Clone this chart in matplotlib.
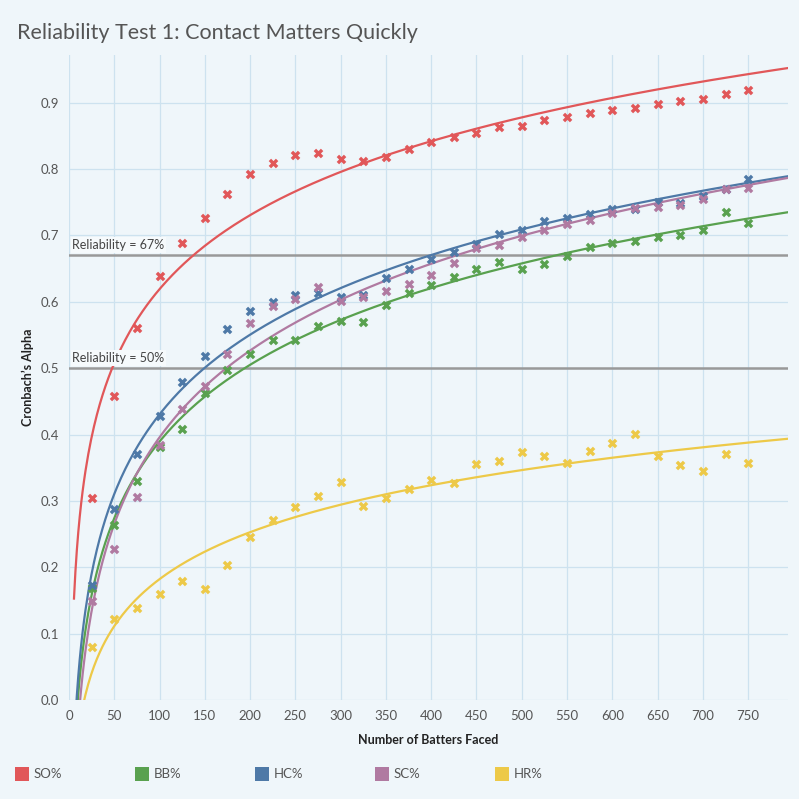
"""Reliability test chart: Cronbach's alpha vs batters faced, with log trend lines."""
import matplotlib
matplotlib.use("Agg")
import matplotlib.pyplot as plt
import numpy as np
from matplotlib.patches import Rectangle

BATTERS = list(range(25, 751, 25))

SO_PCT = [0.304, 0.458, 0.561, 0.639, 0.688, 0.727, 0.762, 0.792, 0.809, 0.822,
          0.825, 0.815, 0.812, 0.819, 0.830, 0.841, 0.849, 0.855, 0.863, 0.865,
          0.874, 0.879, 0.884, 0.889, 0.892, 0.898, 0.903, 0.906, 0.913, 0.919]
BB_PCT = [0.169, 0.263, 0.330, 0.382, 0.409, 0.462, 0.498, 0.521, 0.542, 0.542,
          0.563, 0.571, 0.569, 0.596, 0.614, 0.626, 0.637, 0.649, 0.660, 0.649,
          0.657, 0.669, 0.682, 0.688, 0.692, 0.698, 0.700, 0.709, 0.735, 0.719]
HC_PCT = [0.174, 0.288, 0.371, 0.428, 0.479, 0.518, 0.559, 0.586, 0.600, 0.610,
          0.613, 0.608, 0.610, 0.636, 0.650, 0.664, 0.675, 0.687, 0.702, 0.708,
          0.722, 0.727, 0.732, 0.740, 0.740, 0.751, 0.749, 0.760, 0.770, 0.785]
SC_PCT = [0.149, 0.227, 0.306, 0.385, 0.438, 0.473, 0.522, 0.568, 0.594, 0.605,
          0.622, 0.601, 0.607, 0.617, 0.627, 0.640, 0.659, 0.681, 0.686, 0.697,
          0.708, 0.718, 0.724, 0.734, 0.742, 0.743, 0.746, 0.755, 0.770, 0.772]
HR_PCT = [0.080, 0.122, 0.138, 0.160, 0.179, 0.167, 0.203, 0.246, 0.272, 0.291,
          0.308, 0.329, 0.292, 0.305, 0.318, 0.331, 0.327, 0.356, 0.360, 0.374,
          0.368, 0.357, 0.375, 0.387, 0.401, 0.368, 0.354, 0.345, 0.371, 0.357]

SERIES_NAMES = ["SO%", "BB%", "HC%", "SC%", "HR%"]
SERIES_VALUES = [SO_PCT, BB_PCT, HC_PCT, SC_PCT, HR_PCT]
SERIES_COLORS = ["#e15759", "#59a14f", "#4e79a7", "#b07aa1", "#edc948"]

REF_LINES = [0.67, 0.50]
REF_LABELS = ["Reliability = 67%", "Reliability = 50%"]

X_TICKS = list(range(0, 751, 50))
Y_TICKS = [round(0.1 * i, 1) for i in range(10)]

BG = "#eff6fa"
GRID = "#cde2ef"
TEXT = "#555555"

plt.rcParams["font.family"] = ["Lato", "DejaVu Sans"]

fig = plt.figure(figsize=(7.99, 7.99), dpi=100, facecolor=BG)
ax = fig.add_axes([69 / 799, 1 - 700 / 799, 719 / 799, 645 / 799])
ax.set_facecolor(BG)

x = np.array(BATTERS, dtype=float)
x_fit = np.linspace(5.5, 794, 500)
for name, values, color in zip(SERIES_NAMES, SERIES_VALUES, SERIES_COLORS):
    # logarithmic trend line, like the Tableau one
    b, a = np.polyfit(np.log(x), np.array(values), 1)
    ax.plot(x_fit, a + b * np.log(x_fit), color=color, lw=1.6, zorder=3)
    ax.scatter(x, values, marker="X", s=48, color=color, linewidths=0, zorder=4)

for level, label in zip(REF_LINES, REF_LABELS):
    ax.axhline(level, color="#999999", lw=1.8, zorder=2)
    ax.annotate(label, xy=(0, level), xycoords=("axes fraction", "data"),
                xytext=(2.5, 3), textcoords="offset points", ha="left", va="bottom",
                fontsize=9, color="#444444", zorder=5,
                bbox=dict(boxstyle="square,pad=0.15", fc="#f6fafc", ec="none"))

ax.set_xlim(0, 794)
ax.set_ylim(0, 0.972)
ax.set_xticks(X_TICKS)
ax.set_yticks(Y_TICKS)
ax.set_yticklabels([f"{v:.1f}" for v in Y_TICKS])
ax.grid(True, color=GRID, lw=0.9, zorder=0)
ax.set_axisbelow(True)
for spine in ax.spines.values():
    spine.set_visible(False)
ax.tick_params(length=0, labelsize=9.5, labelcolor=TEXT, pad=7)

ax.set_xlabel("Number of Batters Faced", fontsize=9, fontweight="bold",
              color="#222222", labelpad=9)
ax.set_ylabel("Cronbach\u2019s Alpha", fontsize=9, fontweight="bold",
              color="#222222", labelpad=5)

fig.text(17 / 799, 1 - 33 / 799, "Reliability Test 1: Contact Matters Quickly",
         fontsize=15.5, color="#555555", ha="left", va="center")

for i, (name, color) in enumerate(zip(SERIES_NAMES, SERIES_COLORS)):
    left = 15 + i * 120
    fig.patches.append(Rectangle((left / 799, 1 - 781 / 799), 14 / 799, 14 / 799,
                                 transform=fig.transFigure, facecolor=color,
                                 edgecolor="none"))
    fig.text((left + 19) / 799, 1 - 774 / 799, name, fontsize=9.5, color=TEXT,
             ha="left", va="center")

fig.savefig("out.png", dpi=100, facecolor=BG)
